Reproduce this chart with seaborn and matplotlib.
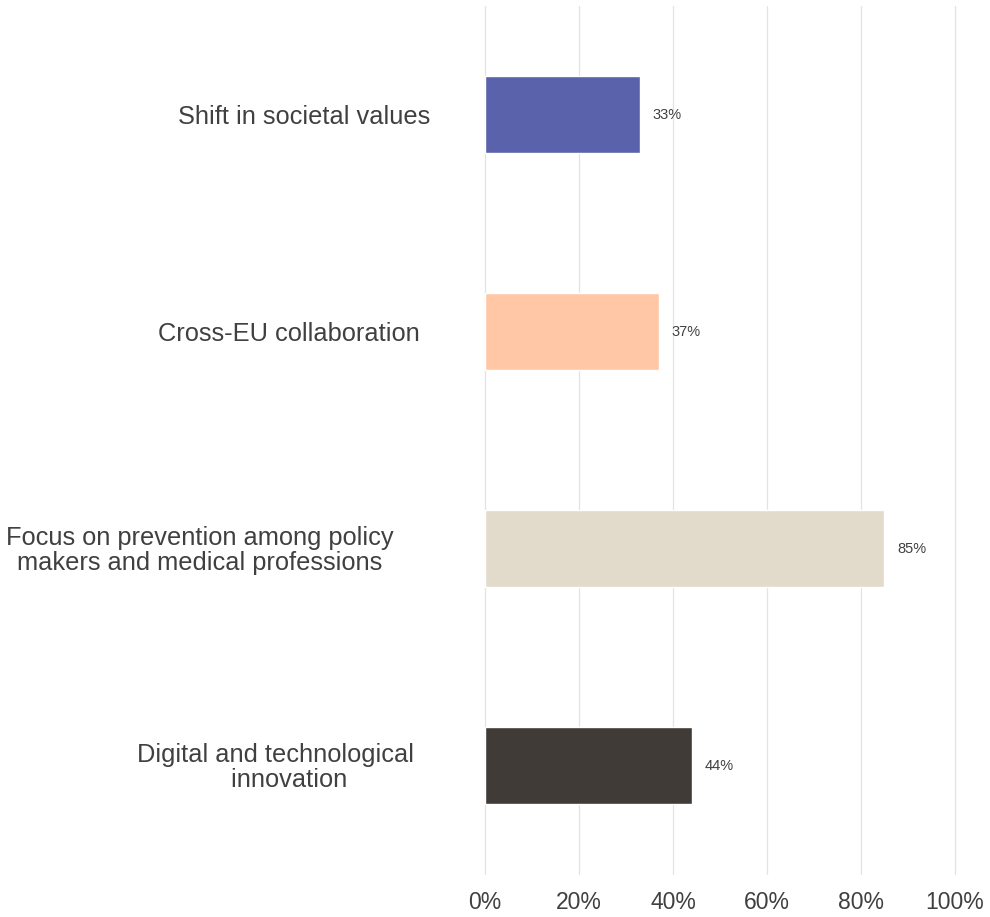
import matplotlib
matplotlib.use("Agg")
import matplotlib.pyplot as plt
import matplotlib.transforms as mtransforms
import seaborn as sns
import pandas as pd

# Drivers and share of respondents citing each one
categories = [
    "Shift in societal values",
    "Cross-EU collaboration",
    "Focus on prevention among policy\nmakers and medical professions",
    "Digital and technological\n    innovation",
]
shares = [33, 37, 85, 44]
bar_colors = ["#5B62AC", "#FFC7A5", "#E2DBCB", "#403B37"]
tick_values = [0, 20, 40, 60, 80, 100]
tick_labels = ["0%", "20%", "40%", "60%", "80%", "100%"]
# horizontal centre (figure fraction) of each category label
label_centers = [0.307, 0.292, 0.202, 0.278]

TEXT = "#404040"

sns.set_theme(style="white")
plt.rcParams["font.family"] = ["Liberation Sans", "DejaVu Sans"]

df = pd.DataFrame({"driver": categories, "share": shares})

fig = plt.figure(figsize=(9.9, 9.17), dpi=100)
ax = fig.add_axes([0.4899, 0.0465, 0.4747, 0.9466])

sns.barplot(
    data=df, x="share", y="driver", hue="driver",
    palette=bar_colors, orient="h", width=0.355,
    legend=False, ax=ax, saturation=1,
)

ax.set_xlim(0, 100)
ax.set_ylim(3.5, -0.5)
ax.set_xticks(tick_values)
ax.set_xticklabels(tick_labels, fontsize=16.5, color=TEXT)
ax.tick_params(axis="x", length=0, pad=12)
ax.set_yticks([])
ax.set_xlabel("")
ax.set_ylabel("")
for s in ax.spines.values():
    s.set_visible(False)
ax.xaxis.grid(True, color="#E3E3E3", linewidth=0.9)
for gl in ax.get_xgridlines():
    gl.set_clip_on(False)
ax.set_axisbelow(True)

for cont in ax.containers:
    ax.bar_label(cont, fmt="%.0f%%", padding=9, fontsize=10.5, color=TEXT)

# category labels, centred lines placed to the left of the plot
trans = mtransforms.blended_transform_factory(fig.transFigure, ax.transData)
for i, (name, xc) in enumerate(zip(categories, label_centers)):
    ax.text(xc, i + 0.008, name, transform=trans, ha="center", va="center",
            multialignment="center", fontsize=18.3, color=TEXT,
            linespacing=1.08, clip_on=False)

fig.savefig("out.png", dpi=100, facecolor="white")
